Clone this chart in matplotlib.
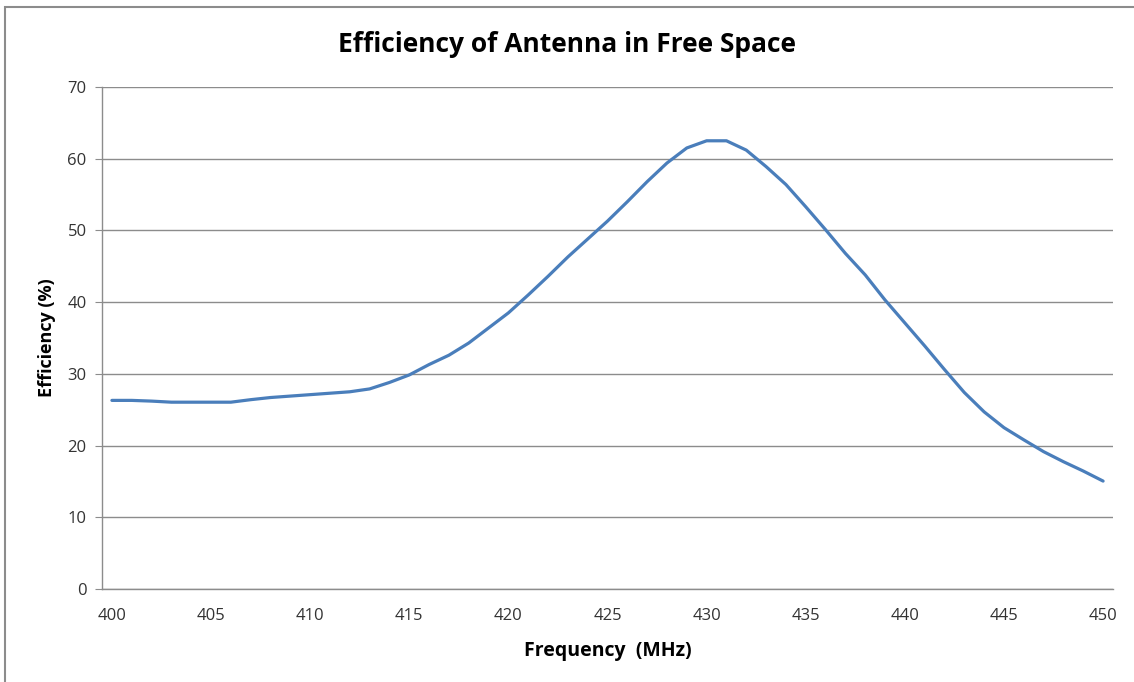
import matplotlib.pyplot as plt
from matplotlib.patches import Rectangle

freq = list(range(400, 451))
eff = [26.3, 26.3, 26.2, 26.05, 26.05, 26.05, 26.05, 26.4, 26.7, 26.9,
       27.1, 27.3, 27.5, 27.9, 28.8, 29.85, 31.3, 32.6, 34.3, 36.4,
       38.5, 41.0, 43.6, 46.3, 48.8, 51.3, 54.0, 56.8, 59.4, 61.5,
       62.5, 62.5, 61.2, 58.9, 56.4, 53.3, 50.1, 46.8, 43.8, 40.3,
       37.1, 33.9, 30.6, 27.4, 24.7, 22.5, 20.8, 19.15, 17.75, 16.45,
       15.05]
yticks = [0, 10, 20, 30, 40, 50, 60, 70]
xticks = [400, 405, 410, 415, 420, 425, 430, 435, 440, 445, 450]

plt.rcParams['font.family'] = ['Open Sans', 'DejaVu Sans']

fig = plt.figure(figsize=(11.34, 6.82), dpi=100)
ax = fig.add_axes([102/1134, 1-589/682, (1113-102)/1134, (589-87)/682])

ax.plot(freq, eff, color='#4A7EBB', linewidth=2.3, solid_capstyle='round', zorder=3)

ax.set_xlim(399.5, 450.5)
ax.set_ylim(0, 70)
ax.set_yticks(yticks)
ax.set_xticks(xticks)
ax.grid(axis='y', color='#8c8c8c', linewidth=1)
ax.set_axisbelow(True)

for s in ['top', 'right']:
    ax.spines[s].set_visible(False)
for s in ['left', 'bottom']:
    ax.spines[s].set_color('#8c8c8c')
    ax.spines[s].set_linewidth(1)

ax.tick_params(axis='y', length=5, colors='#8c8c8c', labelcolor='#333333',
               labelsize=12, pad=6)
ax.tick_params(axis='x', length=0, labelsize=12, labelcolor='#333333', pad=14)

fig.text(567/1134, 1-45/682, 'Efficiency of Antenna in Free Space', fontsize=19,
         fontweight='bold', ha='center', va='center', color='black')
ax.set_xlabel('Frequency  (MHz)', fontsize=14, fontweight='bold', labelpad=12)
ax.set_ylabel('Efficiency (%)', fontsize=13, fontweight='bold', labelpad=8)

fig.add_artist(Rectangle((5/1134, -0.1), 1.2, 1.1 - 7/682, transform=fig.transFigure,
                         fill=False, edgecolor='#8c8c8c', linewidth=1.5))

fig.savefig('out.png', dpi=100)
